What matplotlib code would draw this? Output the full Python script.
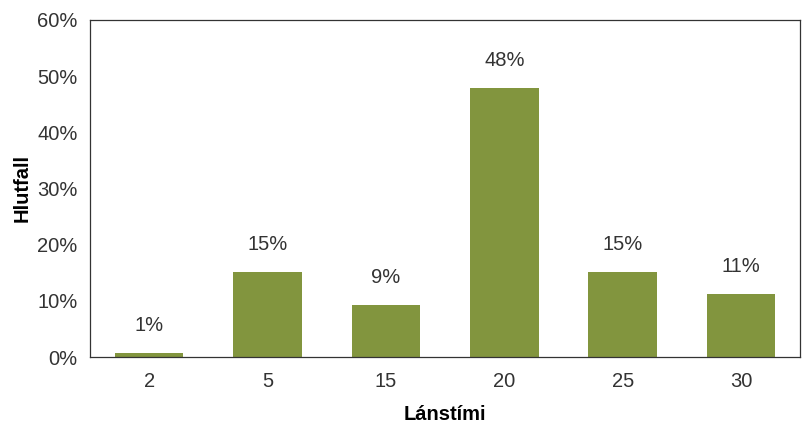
import matplotlib
matplotlib.use("Agg")
import matplotlib.pyplot as plt
from matplotlib.ticker import PercentFormatter

# data
categories = ["2", "5", "15", "20", "25", "30"]
values = [0.7, 15.1, 9.3, 47.9, 15.1, 11.2]
labels = ["1%", "15%", "9%", "48%", "15%", "11%"]

plt.rcParams['font.family'] = ['Liberation Sans', 'DejaVu Sans']

fig = plt.figure(figsize=(8.1, 4.23), dpi=100)
ax = fig.add_axes([0.111, 0.156, 0.877, 0.797])

bars = ax.bar(range(len(categories)), values, width=0.58, color="#82953e")

# value labels above each bar
for rect, lab in zip(bars, labels):
    ax.annotate(lab, (rect.get_x() + rect.get_width() / 2, rect.get_height()),
                textcoords="offset points", xytext=(0, 13), ha='center', va='bottom',
                fontsize=14.5, color="#333333")

ax.set_xlim(-0.5, len(categories) - 0.5)
ax.set_ylim(0, 60)
ax.set_yticks(range(0, 61, 10))
ax.yaxis.set_major_formatter(PercentFormatter(decimals=0))
ax.set_xticks(range(len(categories)))
ax.set_xticklabels(categories)
ax.tick_params(length=0, labelsize=14.5, labelcolor="#333333")
ax.tick_params(axis='x', pad=11)
ax.tick_params(axis='y', pad=9)

for s in ax.spines.values():
    s.set_color("#333333")
    s.set_linewidth(0.9)

ax.set_xlabel("Lánstími", fontsize=14.5, fontweight='bold', labelpad=10)
ax.set_ylabel("Hlutfall", fontsize=14.5, fontweight='bold', labelpad=4)

fig.savefig("out.png", dpi=100)
